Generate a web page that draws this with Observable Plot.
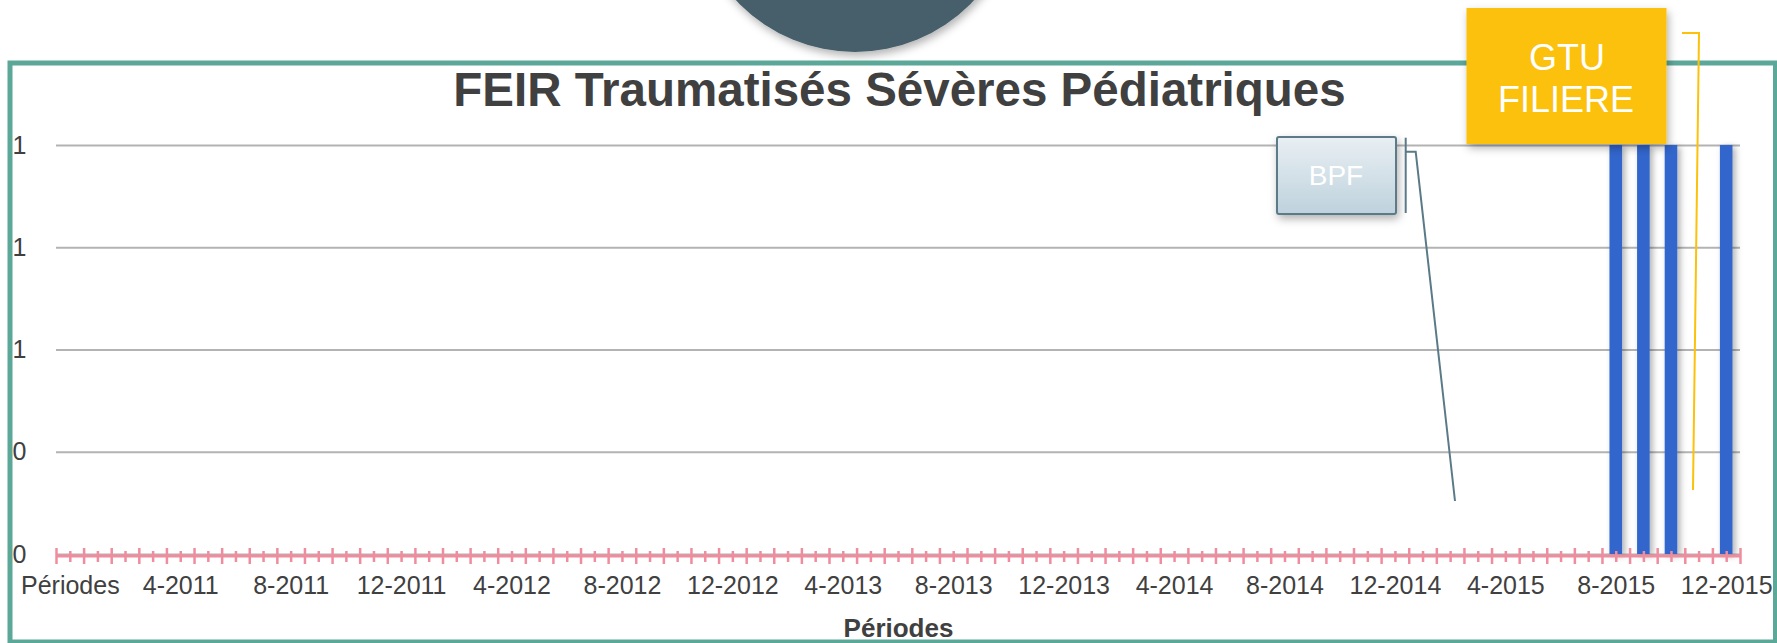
<!DOCTYPE html>
<html>
<head>
<meta charset="utf-8">
<script src="https://cdn.jsdelivr.net/npm/d3@7"></script>
<script src="https://cdn.jsdelivr.net/npm/@observablehq/plot@0.6"></script>
<style>
  html, body { margin: 0; padding: 0; background: #ffffff; }
  #wrap { position: relative; width: 1777px; height: 643px; overflow: hidden; background: #ffffff; }
  #chart { position: absolute; left: 0; top: 0; }
  #deco { position: absolute; left: 0; top: 0; pointer-events: none; }
  text { font-family: "Liberation Sans", Arial, sans-serif; }
</style>
</head>
<body>
<div id="wrap">
  <div id="chart"></div>
  <svg id="deco" width="1777" height="643" xmlns="http://www.w3.org/2000/svg">
    <defs>
      <linearGradient id="bpfGrad" x1="0" y1="0" x2="0" y2="1">
        <stop offset="0" stop-color="#e9eff3"/>
        <stop offset="1" stop-color="#bed2dd"/>
      </linearGradient>
      <filter id="softShadow" x="-20%" y="-20%" width="150%" height="160%">
        <feDropShadow dx="2" dy="4" stdDeviation="4" flood-color="#000" flood-opacity="0.3"/>
      </filter>
    </defs>
    <circle cx="855" cy="-111" r="163" fill="#465e6a" filter="url(#softShadow)"/>
    <rect x="10" y="63" width="1765.5" height="579" fill="none" stroke="#5ba898" stroke-width="5"/>
    <text x="899.5" y="106" text-anchor="middle" font-size="47.5" font-weight="bold" fill="#404040">FEIR Traumatisés Sévères Pédiatriques</text>
    <rect x="1277" y="137" width="119" height="77" rx="2" fill="url(#bpfGrad)" stroke="#5b7a88" stroke-width="2" filter="url(#softShadow)"/>
    <text x="1336" y="185" text-anchor="middle" font-size="28" fill="#ffffff">BPF</text>
    <line x1="1405.7" y1="137.7" x2="1405.7" y2="213" stroke="#5b7a88" stroke-width="2"/>
    <polyline points="1405.7,151.7 1415.7,151.7 1455,501" fill="none" stroke="#5b7a88" stroke-width="2"/>
    <rect x="1466.5" y="8" width="200" height="136" fill="#fcc10a" filter="url(#softShadow)"/>
    <text x="1567" y="69.5" text-anchor="middle" font-size="36" fill="#ffffff">GTU</text>
    <text x="1566" y="111.5" text-anchor="middle" font-size="36" fill="#ffffff">FILIERE</text>
    <polyline points="1682,33 1699,33 1693,490" fill="none" stroke="#fcc10a" stroke-width="2"/>
  </svg>
</div>
<script>
// ---- data ----
const periods = [
  "Périodes",
  "1-2011","2-2011","3-2011","4-2011","5-2011","6-2011","7-2011","8-2011","9-2011","10-2011","11-2011","12-2011",
  "1-2012","2-2012","3-2012","4-2012","5-2012","6-2012","7-2012","8-2012","9-2012","10-2012","11-2012","12-2012",
  "1-2013","2-2013","3-2013","4-2013","5-2013","6-2013","7-2013","8-2013","9-2013","10-2013","11-2013","12-2013",
  "1-2014","2-2014","3-2014","4-2014","5-2014","6-2014","7-2014","8-2014","9-2014","10-2014","11-2014","12-2014",
  "1-2015","2-2015","3-2015","4-2015","5-2015","6-2015","7-2015","8-2015","9-2015","10-2015","11-2015","12-2015"
];
const counts = [
  0,
  0,0,0,0,0,0,0,0,0,0,0,0,
  0,0,0,0,0,0,0,0,0,0,0,0,
  0,0,0,0,0,0,0,0,0,0,0,0,
  0,0,0,0,0,0,0,0,0,0,0,0,
  0,0,0,0,0,0,0,1,1,1,0,1
];
const xTickLabels = ["Périodes","4-2011","8-2011","12-2011","4-2012","8-2012","12-2012","4-2013","8-2013","12-2013","4-2014","8-2014","12-2014","4-2015","8-2015","12-2015"];
const yTicks = [0, 0.25, 0.5, 0.75, 1];
const yTickLabels = ["0", "0", "1", "1", "1"];
const xTitle = "Périodes";

const rows = periods.map((p, i) => ({period: p, count: counts[i]}));

const W = 1777, H = 643;
const mL = 56, mR = 37, mT = 145, mB = 89;
const half = (W - mL - mR) / periods.length / 2;
const pink = "#ef8c9e";

const chart = Plot.plot({
  width: W, height: H,
  marginLeft: mL, marginRight: mR, marginTop: mT, marginBottom: mB,
  style: {fontFamily: "Liberation Sans, Arial, sans-serif", background: "transparent", color: "#404040", overflow: "visible"},
  x: {type: "band", domain: periods, paddingInner: 0, paddingOuter: 0, axis: null},
  y: {domain: [0, 1], axis: null},
  marks: [
    Plot.ruleY(yTicks, {stroke: "#b3b3b3", strokeWidth: 2}),
    Plot.barY(rows.filter(d => d.count > 0), {x: "period", y: "count", fill: "#3366cc", insetLeft: 7.5, insetRight: 7.5}),
    Plot.ruleY([0], {stroke: pink, strokeWidth: 3, dy: 1.5}),
    Plot.ruleX(periods, {x: d => d, y1: 0, y2: 0, insetTop: -6, insetBottom: -10, dx: -half, stroke: pink, strokeWidth: 2.5}),
    Plot.ruleX(periods.slice(-1), {x: d => d, y1: 0, y2: 0, insetTop: -6, insetBottom: -10, dx: half, stroke: pink, strokeWidth: 2.5}),
    Plot.ruleX(periods, {x: d => d, y1: 0, y2: 0, insetTop: -3, insetBottom: -8, stroke: pink, strokeWidth: 2.5}),
    Plot.axisX(xTickLabels, {tickSize: 0, tickPadding: 22, fontSize: 25, fill: "#404040", label: null}),
    Plot.axisY(yTicks, {tickSize: 0, tickPadding: 30, fontSize: 25, fill: "#404040", label: null,
      tickFormat: (d, i) => yTickLabels[i]}),
    Plot.text([xTitle], {frameAnchor: "bottom", lineAnchor: "middle", dy: 74.5, dx: 0, fontSize: 26, fontWeight: "bold", fill: "#404040"})
  ]
});

// soft shadow on the bars
const svg = d3.select(chart);
const defs = svg.insert("defs", ":first-child");
defs.append("filter").attr("id", "barShadow").attr("x", "-50%").attr("y", "-5%").attr("width", "200%").attr("height", "110%")
  .append("feDropShadow").attr("dx", 3).attr("dy", 2).attr("stdDeviation", 3)
  .attr("flood-color", "#000").attr("flood-opacity", 0.3);
svg.selectAll("g[aria-label='bar']").attr("filter", "url(#barShadow)");

document.getElementById("chart").appendChild(chart);
</script>
</body>
</html>
